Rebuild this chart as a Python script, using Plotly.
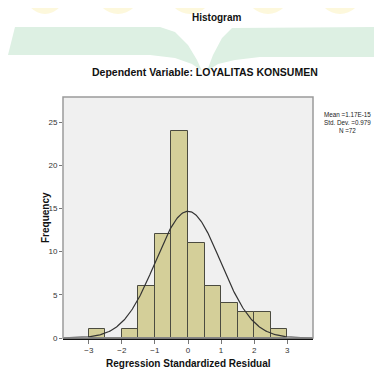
import numpy as np
import plotly.graph_objects as go

# ---- data ----
bin_left = [-3.0, -2.5, -2.0, -1.5, -1.0, -0.5, 0.0, 0.5, 1.0, 1.5, 2.0, 2.5]
counts = [1, 0, 1, 6, 12, 24, 11, 6, 4, 3, 3, 1]
bin_width = 0.5
stat_mean = 1.17e-15
stat_sd = 0.979
stat_n = 72
x_ticks = [-3, -2, -1, 0, 1, 2, 3]
y_ticks = [0, 5, 10, 15, 20, 25]

OFF = 8  # page body margin offset
W, H = 382 - OFF, 376 - OFF
L, R, T, B = 63 - OFF, 313 - OFF, 97 - OFF, 338 - OFF  # plot area in figure pixels


def px(x):
    return (x - OFF - L) / (R - L)


def py(y):
    return (B - (y - OFF)) / (B - T)


centers = [b + bin_width / 2 for b in bin_left]
xc = np.linspace(-3.78, 3.78, 300)
yc = stat_n * bin_width * np.exp(-0.5 * ((xc - stat_mean) / stat_sd) ** 2) / (stat_sd * np.sqrt(2 * np.pi))

fig = go.Figure()
fig.add_trace(go.Bar(x=centers, y=counts, width=[bin_width] * len(counts),
                     marker=dict(color="#D4CF99", line=dict(color="#4b4b40", width=1)),
                     showlegend=False, hoverinfo="skip"))
fig.add_trace(go.Scatter(x=xc, y=yc, mode="lines", line=dict(color="#333333", width=1.2),
                         showlegend=False, hoverinfo="skip"))

shapes = []


def path(points):
    return "M " + " L ".join(f"{px(a):.4f},{py(b):.4f}" for a, b in points) + " Z"


# watermark: green book shape
left_piece = [(15, 27), (160, 27), (175, 32), (188, 45), (197, 60), (202, 71),
              (192, 64), (175, 58), (150, 55), (8, 55)]
right_piece = [(207, 71), (213, 55), (222, 38), (232, 28), (390, 27), (390, 57),
               (260, 57), (235, 60), (218, 64)]
for pts in (left_piece, right_piece):
    shapes.append(dict(type="path", xref="paper", yref="paper", path=path(pts),
                       fillcolor="#DDF0E3", line=dict(width=0), layer="below"))
# watermark: faint yellow letters at top
for cx, r in [(45, 20), (118, 22), (190, 22), (268, 22), (340, 22)]:
    shapes.append(dict(type="circle", xref="paper", yref="paper",
                       x0=px(cx - r), x1=px(cx + r), y0=py(14), y1=py(-30),
                       fillcolor="#FDF8DC", line=dict(width=0), layer="below"))
# plot frame
shapes.append(dict(type="rect", xref="paper", yref="paper", x0=0, x1=1, y0=0, y1=1,
                   line=dict(color="#9a9a9a", width=1.5), fillcolor="rgba(0,0,0,0)"))


def ann(text, x, y, size, **kw):
    d = dict(text=text, x=px(x), y=py(y), xref="paper", yref="paper", showarrow=False,
             xanchor="center", yanchor="middle", font=dict(size=size, color="#111"))
    d.update(kw)
    return d


annotations = [
    ann("<b>Histogram</b>", 217, 17, 10),
    ann("<b>Dependent Variable: LOYALITAS KONSUMEN</b>", 205, 72, 10.5),
    ann(f"Mean =1.17E-15<br>Std. Dev. ={stat_sd}<br>N ={stat_n}", 347, 122, 6.3, align="center",
        font=dict(size=6.3, color="#222", family="Liberation Sans, Arial")),
    ann("<b>Frequency</b>", 45, 218, 10, textangle=-90),
    ann("<b>Regression Standardized Residual</b>", 188, 363, 10),
]

fig.update_layout(
    width=W, height=H,
    margin=dict(l=L, r=W - R, t=T, b=H - B, pad=0),
    paper_bgcolor="white", plot_bgcolor="#F0F0F0",
    font=dict(family="Liberation Sans, Arial, sans-serif", color="#333"),
    shapes=shapes, annotations=annotations, bargap=0,
    xaxis=dict(range=[-3.78, 3.78], tickvals=x_ticks, ticks="outside", ticklen=4,
               tickcolor="#777", tickfont=dict(size=8, color="#333"), showgrid=False,
               zeroline=False, showline=True, linecolor="#111", linewidth=1.5, mirror=False),
    yaxis=dict(range=[0, 27.9], tickvals=y_ticks, ticks="outside", ticklen=3,
               tickcolor="#777", tickfont=dict(size=8, color="#333"), showgrid=False,
               zeroline=False, showline=False),
)
fig.write_html("out.html")
